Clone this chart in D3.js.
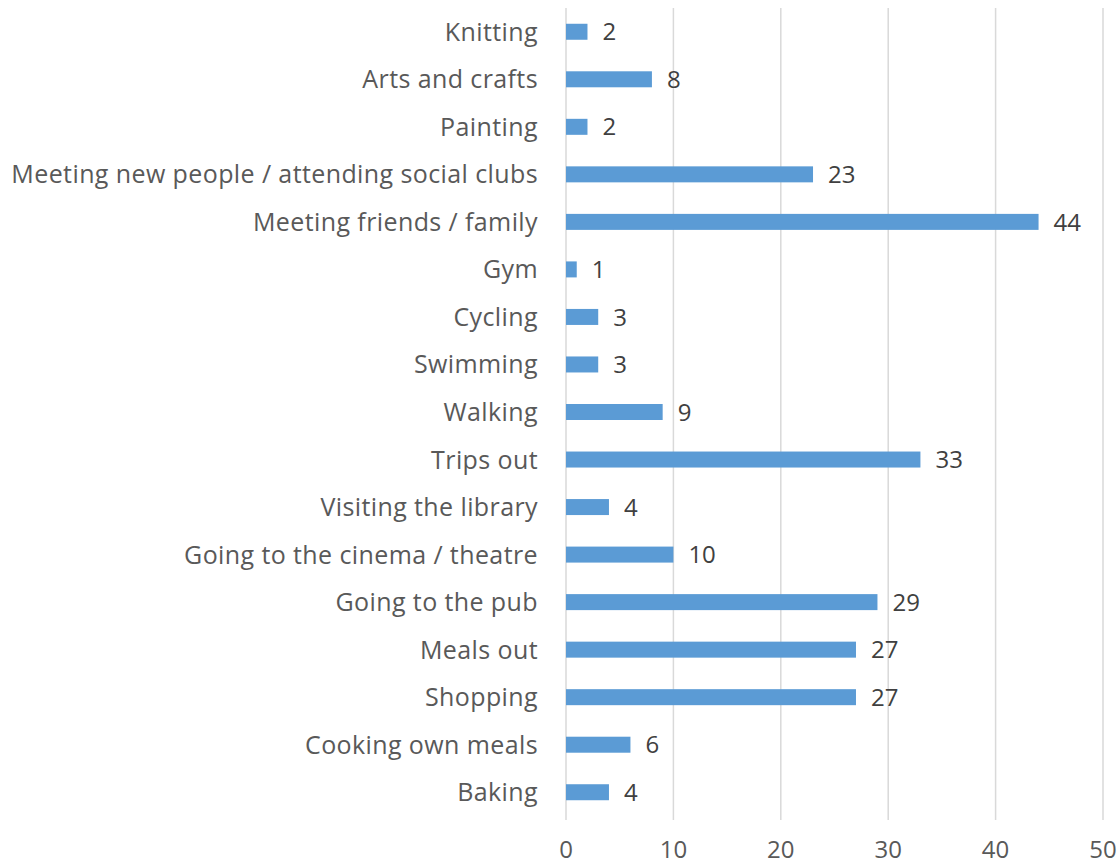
<!DOCTYPE html>
<html>
<head>
<meta charset="utf-8">
<script src="https://cdn.jsdelivr.net/npm/d3@7"></script>
<style>
  html, body { margin: 0; padding: 0; background: #ffffff; }
  svg { display: block; }
  text { font-family: "Open Sans", Lato, sans-serif; }
</style>
</head>
<body>
<svg id="chart" width="1119" height="865"></svg>
<script>
// Leisure activities and number of responses
const categories = [
  "Knitting", "Arts and crafts", "Painting",
  "Meeting new people / attending social clubs", "Meeting friends / family",
  "Gym", "Cycling", "Swimming", "Walking", "Trips out",
  "Visiting the library", "Going to the cinema / theatre", "Going to the pub",
  "Meals out", "Shopping", "Cooking own meals", "Baking"
];
const values = [2, 8, 2, 23, 44, 1, 3, 3, 9, 33, 4, 10, 29, 27, 27, 6, 4];
const xTicks = [0, 10, 20, 30, 40, 50];

const svg = d3.select("#chart");
const plotLeft = 566, plotRight = 1103, plotTop = 8, plotBottom = 816;

const x = d3.scaleLinear().domain([0, 50]).range([plotLeft, plotRight]);
const y = d3.scaleBand().domain(categories).range([plotTop, plotBottom]);

// vertical gridlines
svg.append("g").selectAll("line").data(xTicks).join("line")
  .attr("x1", d => x(d)).attr("x2", d => x(d))
  .attr("y1", plotTop).attr("y2", plotBottom + 4)
  .attr("stroke", "#d9d9d9").attr("stroke-width", 1.5);

// x tick labels
svg.append("g").selectAll("text").data(xTicks).join("text")
  .attr("x", d => x(d)).attr("y", 858)
  .attr("text-anchor", "middle")
  .attr("font-size", 24).attr("fill", "#595959")
  .text(d => d);

const rows = categories.map((c, i) => ({ c, v: values[i] }));

// bars
svg.append("g").selectAll("rect").data(rows).join("rect")
  .attr("x", x(0))
  .attr("y", d => y(d.c) + y.bandwidth() / 2 - 8)
  .attr("width", d => x(d.v) - x(0))
  .attr("height", 16)
  .attr("fill", "#5b9bd5");

// value labels
svg.append("g").selectAll("text").data(rows).join("text")
  .attr("x", d => x(d.v) + 15)
  .attr("y", d => y(d.c) + y.bandwidth() / 2)
  .attr("dy", "0.36em")
  .attr("font-size", 24).attr("fill", "#404040")
  .text(d => d.v);

// category labels
svg.append("g").selectAll("text").data(categories).join("text")
  .attr("x", 538)
  .attr("y", d => y(d) + y.bandwidth() / 2)
  .attr("dy", "0.36em")
  .attr("text-anchor", "end")
  .attr("font-size", 25).attr("letter-spacing", 0.4)
  .attr("fill", "#595959")
  .text(d => d);
</script>
</body>
</html>
